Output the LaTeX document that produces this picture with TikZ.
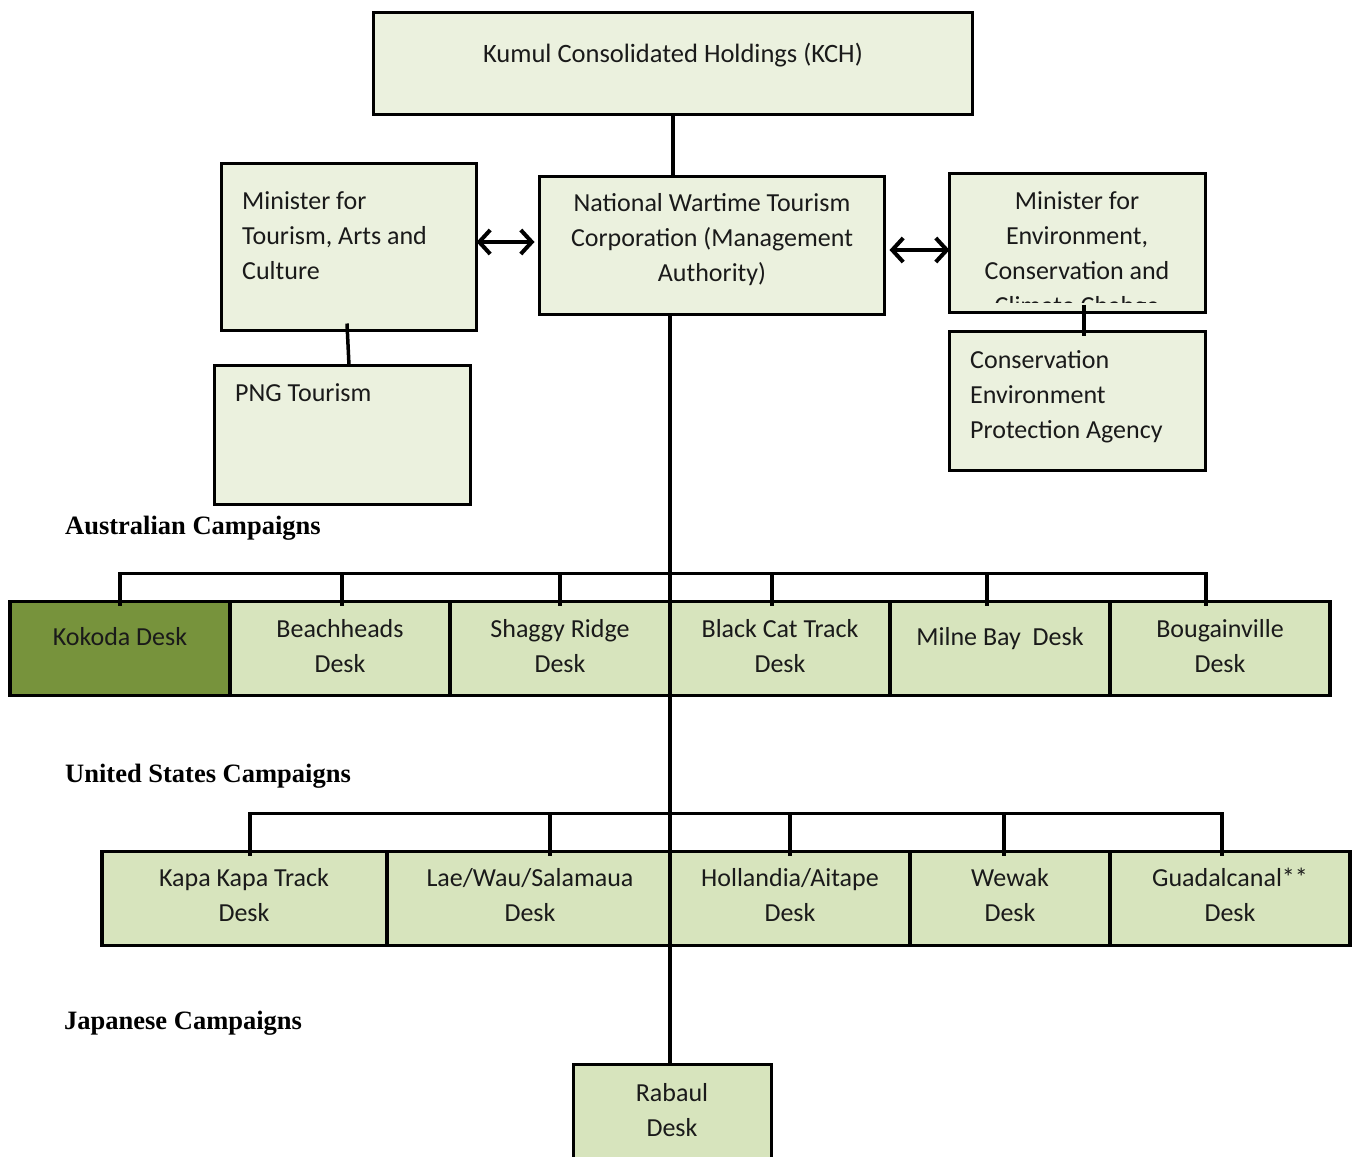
\documentclass[tikz,border=0pt]{standalone}
\usepackage{fontspec}
\setmainfont{Carlito}
\newfontfamily\headfont{Liberation Serif}
\usetikzlibrary{arrows.meta}
\definecolor{topfill}{HTML}{EBF1DE}
\definecolor{deskfill}{HTML}{D7E4BD}
\definecolor{kokfill}{HTML}{77933C}
\definecolor{txt}{HTML}{1A1A1A}
\begin{document}
\begin{tikzpicture}[x=1pt,y=-1pt,
  box/.style={draw=black, line width=3.5pt, rectangle, inner sep=0pt, outer sep=0pt},
  topbox/.style={box, fill=topfill},
  desk/.style={box, fill=deskfill, minimum height=94pt},
  lab/.style={font=\fontsize{26}{35}\selectfont, text=txt, inner sep=0pt},
  head/.style={font=\headfont\bfseries\fontsize{26.5}{30}\selectfont, inner sep=0pt, anchor=base west},
  link/.style={line width=3.5pt},
  dbl/.style={line width=3.5pt, {Straight Barb[length=11pt,width=24pt,line width=4pt]}-{Straight Barb[length=11pt,width=24pt,line width=4pt]}}
]
\useasboundingbox (0,0) rectangle (1358,1157);
\clip (0,0) rectangle (1358,1157);

% top boxes
\node[topbox, minimum width=599pt, minimum height=102pt] (kch) at (673,63.5) {};
\node[topbox, minimum width=255pt, minimum height=167pt] (mta) at (349,247) {};
\node[topbox, minimum width=345pt, minimum height=138pt] (nwtc) at (712,245.5) {};
\node[topbox, minimum width=256pt, minimum height=139pt] (env) at (1077.5,243) {};
\node[topbox, minimum width=256pt, minimum height=139pt] (cepa) at (1077.5,401) {};
\node[topbox, minimum width=256pt, minimum height=139pt] (png) at (342.5,435) {};

\node[lab, anchor=base, font=\fontsize{26.5}{35}\selectfont] (tkch) at (673,62) {Kumul Consolidated Holdings (KCH)};
\node[lab, anchor=north west, align=left] (tmta) at (242,191) {Minister for\\Tourism, Arts and\\Culture};
\node[lab, anchor=north, align=center] (tnwtc) at (712,193) {National Wartime Tourism\\Corporation (Management\\Authority)};
\begin{scope}
\clip (env.north west) rectangle ([yshift=10pt]env.south east);
\node[lab, anchor=north, align=center] (tenv) at (1077,191) {Minister for\\Environment,\\Conservation and\\Climate Chabge};
\end{scope}
\node[lab, anchor=north west, align=left] (tcepa) at (970,350) {Conservation\\Environment\\Protection Agency};
\node[lab, anchor=base west] (tpng) at (235,401) {PNG Tourism};

% headings
\node[head] (hau) at (65,534) {Australian Campaigns};
\node[head] (hus) at (65,782) {United States Campaigns};
\node[head] (hjp) at (64,1029) {Japanese Campaigns};

% Australian desks
\node[desk, fill=kokfill, minimum width=220pt] (kokoda) at (120,648.5) {};
\node[desk, minimum width=220pt] (beach) at (340,648.5) {};
\node[desk, minimum width=220pt] (shaggy) at (560,648.5) {};
\node[desk, minimum width=220pt] (bcat) at (780,648.5) {};
\node[desk, minimum width=220pt] (milne) at (1000,648.5) {};
\node[desk, minimum width=220pt] (boug) at (1220,648.5) {};

\node[lab, anchor=base] (tkok) at (120,645) {Kokoda Desk};
\node[lab, anchor=north, align=center] (tbeach) at (340,619) {Beachheads\\Desk};
\node[lab, anchor=north, align=center] (tshaggy) at (560,619) {Shaggy Ridge\\Desk};
\node[lab, anchor=north, align=center] (tbcat) at (780,619) {Black Cat Track\\Desk};
\node[lab, anchor=base] (tmilne) at (1000,645) {Milne Bay\ \ Desk};
\node[lab, anchor=north, align=center] (tboug) at (1220,619) {Bougainville\\Desk};

% US desks
\node[desk, minimum width=285pt] (kapa) at (244.5,898.5) {};
\node[desk, minimum width=283pt] (lae) at (528.5,898.5) {};
\node[desk, minimum width=240pt] (holl) at (790,898.5) {};
\node[desk, minimum width=200pt] (wewak) at (1010,898.5) {};
\node[desk, minimum width=240pt] (guad) at (1230,898.5) {};

\node[lab, anchor=north, align=center] (tkapa) at (244,868) {Kapa Kapa Track\\Desk};
\node[lab, anchor=north, align=center] (tlae) at (530,868) {Lae/Wau/Salamaua\\Desk};
\node[lab, anchor=north, align=center] (tholl) at (790,868) {Hollandia/Aitape\\Desk};
\node[lab, anchor=north, align=center] (twewak) at (1010,868) {Wewak\\Desk};
\node[lab, anchor=north, align=center] (tguad) at (1230,868) {Guadalcanal**\\Desk};

% Japanese
\node[desk, minimum width=198pt, minimum height=120pt] (rabaul) at (672.5,1124.5) {};
\node[lab, anchor=north, align=center] (trab) at (672,1083) {Rabaul\\Desk};

% connectors
\draw[link] (kch.south) -- (kch.south |- nwtc.north);
\draw[link] ([xshift=-2pt,yshift=7pt]mta.south) -- ([xshift=6.5pt]png.north);
\draw[link] ([xshift=6.5pt,yshift=8pt]env.south) -- ([xshift=6.5pt,yshift=-4pt]cepa.north);
\draw[dbl, shorten >=5pt] ([yshift=5pt]mta.east) -- ([yshift=5pt]mta.east -| nwtc.west);
\draw[dbl, shorten <=5pt] ([yshift=-4.5pt]nwtc.east) -- ([yshift=-4.5pt]nwtc.east -| env.west);

% trunk
\draw[link] ([xshift=-2.5pt]nwtc.south -| rabaul.north) -- ([xshift=-2.5pt]rabaul.north);

% Australian bar
\draw[link] ([yshift=-4pt]kokoda.north) -- ++(0,-32) -| ([xshift=-14pt,yshift=-4pt]boug.north);
\draw[link] ([xshift=2pt,yshift=-4pt]beach.north) -- ++(0,-32);
\draw[link] ([yshift=-4pt]shaggy.north) -- ++(0,-32);
\draw[link] ([xshift=-8pt,yshift=-4pt]bcat.north) -- ++(0,-32);
\draw[link] ([xshift=-13pt,yshift=-4pt]milne.north) -- ++(0,-32);

% US bar
\draw[link] ([xshift=5.5pt,yshift=-4pt]kapa.north) -- ++(0,-42) -| ([xshift=-8pt,yshift=-4pt]guad.north);
\draw[link] ([xshift=21.5pt,yshift=-4pt]lae.north) -- ++(0,-42);
\draw[link] ([yshift=-4pt]holl.north) -- ++(0,-42);
\draw[link] ([xshift=-6pt,yshift=-4pt]wewak.north) -- ++(0,-42);
\end{tikzpicture}
\end{document}
